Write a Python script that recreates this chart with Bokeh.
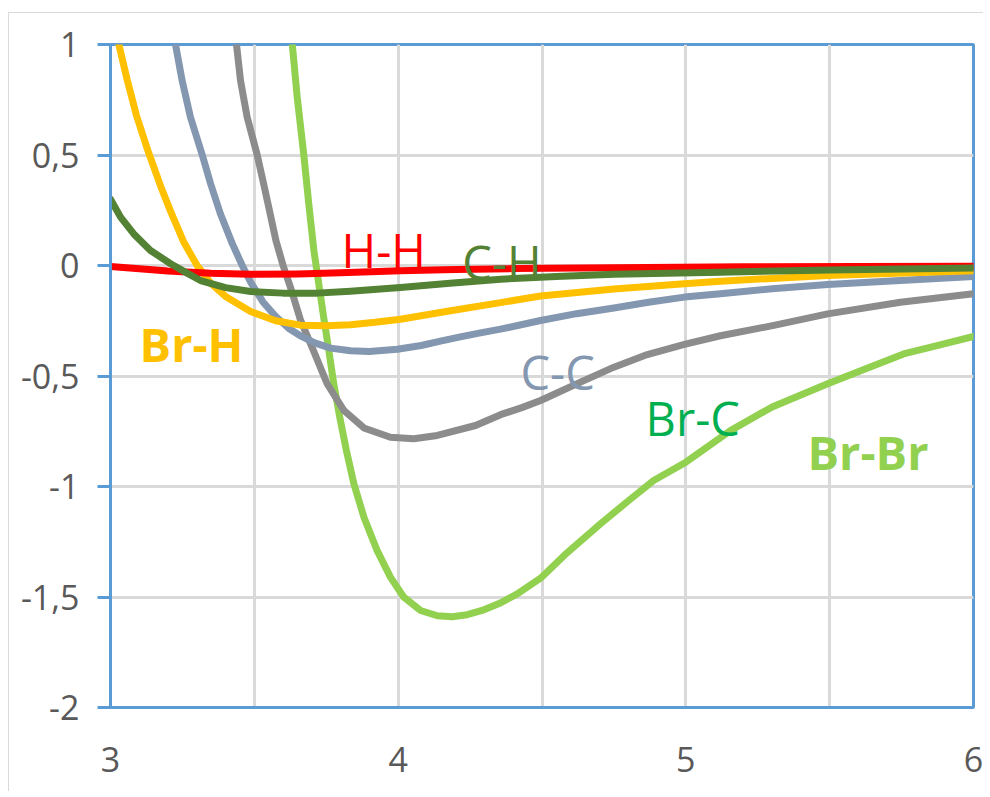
from bokeh.plotting import figure
from bokeh.models import Range1d, FixedTicker, Label
from bokeh.embed import file_html
from bokeh.resources import INLINE

# ---- data ----
hh_x = [3.0, 3.2, 3.35, 3.487, 3.65, 3.8, 4.008, 4.2, 4.4, 4.75, 5.2, 5.6, 6.0]
hh_y = [-0.005, -0.025, -0.035, -0.040, -0.038, -0.033, -0.024, -0.018, -0.014, -0.010, -0.006, -0.004, -0.003]

ch_x = [3.0, 3.035, 3.081, 3.139, 3.209, 3.26, 3.313, 3.40, 3.487, 3.60, 3.718, 3.834, 4.008, 4.18, 4.356,
        4.55, 4.75, 5.12, 5.5, 6.0]
ch_y = [0.30, 0.219, 0.143, 0.068, 0.008, -0.030, -0.068, -0.100, -0.118, -0.125, -0.125, -0.116, -0.100,
        -0.080, -0.062, -0.050, -0.040, -0.030, -0.020, -0.011]

brh_x = [3.008, 3.029, 3.058, 3.09, 3.13, 3.174, 3.209, 3.255, 3.301, 3.35, 3.40, 3.487, 3.574, 3.66,
         3.75, 3.834, 3.92, 4.008, 4.182, 4.356, 4.495, 4.75, 4.995, 5.12, 5.493, 6.0]
brh_y = [1.1, 1.0, 0.84, 0.68, 0.52, 0.36, 0.245, 0.105, 0.0, -0.082, -0.140, -0.208, -0.250, -0.270,
         -0.273, -0.268, -0.257, -0.243, -0.205, -0.168, -0.138, -0.106, -0.083, -0.071, -0.045, -0.024]

cc_x = [3.207, 3.226, 3.249, 3.278, 3.319, 3.348, 3.382, 3.423, 3.458, 3.487, 3.53, 3.574, 3.62, 3.66, 3.71,
        3.765, 3.834, 3.90, 3.997, 4.08, 4.147, 4.22, 4.286, 4.356, 4.495, 4.62, 4.75, 4.87, 4.995, 5.12,
        5.3, 5.493, 5.746, 6.0]
cc_y = [1.1, 1.0, 0.837, 0.671, 0.5, 0.370, 0.234, 0.100, 0.0, -0.075, -0.165, -0.230, -0.285, -0.318, -0.350,
        -0.374, -0.386, -0.389, -0.379, -0.362, -0.342, -0.322, -0.305, -0.288, -0.249, -0.218, -0.192, -0.166,
        -0.143, -0.128, -0.105, -0.086, -0.068, -0.050]

brc_x = [3.424, 3.438, 3.452, 3.475, 3.51, 3.535, 3.555, 3.575, 3.60, 3.626, 3.66, 3.707, 3.753, 3.811, 3.881,
         3.973, 4.054, 4.136, 4.269, 4.356, 4.43, 4.495, 4.634, 4.75, 4.866, 4.995, 5.12, 5.306, 5.493,
         5.746, 6.0]
brc_y = [1.1, 1.0, 0.837, 0.671, 0.5, 0.354, 0.234, 0.113, 0.0, -0.100, -0.245, -0.390, -0.535, -0.656, -0.735,
         -0.777, -0.784, -0.769, -0.724, -0.675, -0.643, -0.611, -0.528, -0.460, -0.403, -0.357, -0.318,
         -0.271, -0.219, -0.166, -0.128]

brbr_x = [3.624, 3.632, 3.649, 3.672, 3.69, 3.707, 3.724, 3.741, 3.759, 3.776, 3.797, 3.82, 3.846, 3.881,
          3.927, 3.973, 4.019, 4.078, 4.136, 4.188, 4.24, 4.298, 4.355, 4.414, 4.495, 4.587, 4.703, 4.80,
          4.888, 5.0, 5.155, 5.30, 5.493, 5.63, 5.757, 5.88, 6.0]
brbr_y = [1.1, 1.0, 0.762, 0.5, 0.27, 0.068, -0.083, -0.234, -0.385, -0.535, -0.686, -0.837, -0.988, -1.139,
          -1.290, -1.410, -1.500, -1.561, -1.585, -1.589, -1.580, -1.558, -1.527, -1.486, -1.415, -1.300,
          -1.169, -1.065, -0.973, -0.890, -0.747, -0.640, -0.535, -0.465, -0.400, -0.360, -0.321]

x_ticks = [3, 4, 5, 6]
x_grid = [3.5, 4, 4.5, 5, 5.5]
y_ticks = [1, 0.5, 0, -0.5, -1, -1.5, -2]
y_grid = [0.5, 0, -0.5, -1, -1.5]
y_tick_labels = ["1", "0,5", "0", "-0,5", "-1", "-1,5", "-2"]

labels = ["H-H", "C-H", "Br-H", "C-C", "Br-C", "Br-Br"]
label_x = [3.803, 4.223, 3.101, 4.425, 4.860, 5.423]
label_y = [0.068, 0.014, -0.357, -0.484, -0.692, -0.846]
label_colors = ["#FF0000", "#548235", "#FFC000", "#8497B0", "#00B050", "#92D050"]
label_bold = [False, False, True, False, False, True]

AXIS = "#5B9BD5"
FONT = "Open Sans"

p = figure(frame_width=863, frame_height=663,
           min_border_left=101, min_border_top=31, min_border_right=10, min_border_bottom=84,
           x_range=Range1d(3, 6), y_range=Range1d(-2, 1),
           output_backend="svg", toolbar_location=None)
p.margin = (12, 0, 0, 8)
p.styles = {"border-top": "1px solid #D9D9D9", "border-left": "1px solid #D9D9D9"}
p.background_fill_color = "white"
p.border_fill_color = "white"
p.outline_line_color = AXIS
p.outline_line_width = 3

# grids
p.xgrid.ticker = FixedTicker(ticks=x_grid)
p.ygrid.ticker = FixedTicker(ticks=y_grid)
for g in (p.xgrid, p.ygrid):
    g.grid_line_color = "#D9D9D9"
    g.grid_line_width = 3

# axes
p.xaxis.ticker = FixedTicker(ticks=x_ticks)
p.yaxis.ticker = FixedTicker(ticks=y_ticks)
p.yaxis.major_label_overrides = {t: s for t, s in zip(y_ticks, y_tick_labels)}
p.xaxis.major_label_overrides = {t: str(t) for t in x_ticks}
for ax in (p.xaxis, p.yaxis):
    ax.axis_line_color = AXIS
    ax.axis_line_width = 3
    ax.minor_tick_line_color = None
    ax.major_label_text_font = FONT
    ax.major_label_text_font_size = "34px"
    ax.major_label_text_color = "#595959"
p.xaxis.major_tick_line_color = None
p.xaxis.major_label_standoff = 33
p.yaxis.major_tick_line_color = AXIS
p.yaxis.major_tick_line_width = 3
p.yaxis.major_tick_out = 13
p.yaxis.major_tick_in = 0
p.yaxis.major_label_standoff = 18

LW = 7
series = [
    (brbr_x, brbr_y, "#92D050"),
    (brc_x, brc_y, "#8C8C8C"),
    (cc_x, cc_y, "#8497B0"),
    (brh_x, brh_y, "#FFC000"),
    (hh_x, hh_y, "#FF0000"),
    (ch_x, ch_y, "#548235"),
]
for xs, ys, c in series:
    p.line(xs, ys, line_color=c, line_width=LW, line_join="round", line_cap="round")

for t, lx, ly, c, b in zip(labels, label_x, label_y, label_colors, label_bold):
    p.add_layout(Label(x=lx, y=ly, text=t, text_color=c, text_font=FONT,
                       text_font_size="47px", text_font_style="bold" if b else "normal",
                       text_align="left", text_baseline="middle"))

open("out.html", "w").write(file_html(p, INLINE))
